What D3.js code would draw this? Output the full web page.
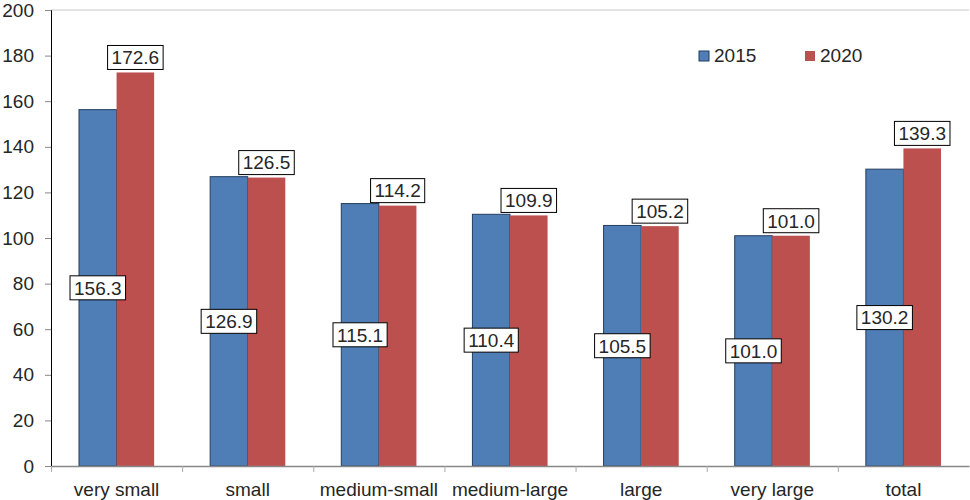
<!DOCTYPE html>
<html>
<head>
<meta charset="utf-8">
<script src="https://cdn.jsdelivr.net/npm/d3@7"></script>
<style>
  body { margin: 0; background: #fff; }
  text { font-family: "Liberation Sans", Arial, sans-serif; fill: #262626; }
</style>
</head>
<body>
<div id="chart"></div>
<script>
// data
var categories = ["very small", "small", "medium-small", "medium-large", "large", "very large", "total"];
var years = ["2015", "2020"];
var values2015 = [156.3, 126.9, 115.1, 110.4, 105.5, 101.0, 130.2];
var values2020 = [172.6, 126.5, 114.2, 109.9, 105.2, 101.0, 139.3];
var yTicks = [0, 20, 40, 60, 80, 100, 120, 140, 160, 180, 200];

var colors = {"2015": "#4f7db5", "2020": "#bb504e"};

// dimensions
var margin = {top: 10, right: 1, bottom: 34, left: 51},
    width = 970 - margin.left - margin.right,
    height = 500 - margin.top - margin.bottom;

var svg = d3.select("#chart").append("svg")
    .attr("width", 970)
    .attr("height", 500)
  .append("g")
    .attr("transform", "translate(" + margin.left + "," + margin.top + ")");

// scales
var x = d3.scaleBand().domain(categories).range([0, width]);
var x1 = d3.scaleBand().domain(years).range([28, x.bandwidth() - 28]);
var y = d3.scaleLinear().domain([0, 200]).range([height, 0]);

// top border line
svg.append("line")
    .attr("x1", 0).attr("x2", width)
    .attr("y1", y(200)).attr("y2", y(200))
    .style("stroke", "#c8c8c8");

// rows of data
var rows = categories.map(function(c, i) {
  return {cat: c, vals: [{year: "2015", v: values2015[i]}, {year: "2020", v: values2020[i]}]};
});

var groups = svg.selectAll(".grp")
    .data(rows)
  .enter().append("g")
    .attr("class", "grp")
    .attr("transform", function(d) { return "translate(" + x(d.cat) + ",0)"; });

groups.selectAll("rect")
    .data(function(d) { return d.vals; })
  .enter().append("rect")
    .attr("x", function(d) { return x1(d.year); })
    .attr("y", function(d) { return y(d.v); })
    .attr("width", x1.bandwidth())
    .attr("height", function(d) { return height - y(d.v); })
    .style("fill", function(d) { return colors[d.year]; })
    .style("stroke", function(d) { return d.year === "2015" ? "#243f60" : "none"; })
    .style("stroke-width", 1);

// y axis
var yAxis = svg.append("g")
    .call(d3.axisLeft(y).tickValues(yTicks).tickSize(6).tickPadding(11));
yAxis.select(".domain").style("stroke", "#000");
yAxis.selectAll(".tick line").style("stroke", "#888");
yAxis.selectAll(".tick text")
    .style("font-size", "19px")
    .style("fill", "#262626");

// x axis
var xAxis = svg.append("g")
    .attr("transform", "translate(0," + height + ")")
    .call(d3.axisBottom(x).tickSize(0).tickPadding(17));
xAxis.select(".domain").style("stroke", "#888").style("stroke-width", 1.5);
xAxis.selectAll(".tick text")
    .style("font-size", "19px")
    .style("fill", "#262626");

// category boundary ticks
svg.selectAll(".bound")
    .data(categories)
  .enter().append("line")
    .attr("class", "bound")
    .attr("x1", function(d) { return x(d) + 0.5; })
    .attr("x2", function(d) { return x(d) + 0.5; })
    .attr("y1", height)
    .attr("y2", height + 6)
    .style("stroke", "#aaa");

// value labels
function addLabel(g, txt, cx, cy) {
  var t = g.append("text")
      .attr("x", cx)
      .attr("y", cy)
      .attr("text-anchor", "middle")
      .attr("dy", "0.36em")
      .style("font-size", "19px")
      .text(txt);
  var w = t.node().getComputedTextLength() + 8, h = 24;
  g.insert("rect", function() { return t.node(); })
      .attr("x", cx - w / 2)
      .attr("y", cy - h / 2)
      .attr("width", w)
      .attr("height", h)
      .style("fill", "#fff")
      .style("stroke", "#000")
      .style("stroke-width", 1);
}

groups.each(function(d) {
  var g = d3.select(this);
  var a = d.vals[0], b = d.vals[1];
  addLabel(g, a.v.toFixed(1), x1("2015") + x1.bandwidth() / 2, (y(a.v) + height) / 2);
  addLabel(g, b.v.toFixed(1), x1("2020") + x1.bandwidth() / 2, y(b.v) - 15);
});

// legend
var legend = svg.append("g")
    .attr("transform", "translate(" + (699 - margin.left) + "," + (51 - margin.top) + ")");
years.forEach(function(yr, i) {
  var lg = legend.append("g").attr("transform", "translate(" + (i * 106) + ",0)");
  lg.append("rect")
      .attr("width", 10).attr("height", 10)
      .style("fill", colors[yr])
      .style("stroke", yr === "2015" ? "#243f60" : "none");
  lg.append("text")
      .attr("x", 15).attr("y", 11)
      .style("font-size", "19px")
      .text(yr);
});
</script>
</body>
</html>
